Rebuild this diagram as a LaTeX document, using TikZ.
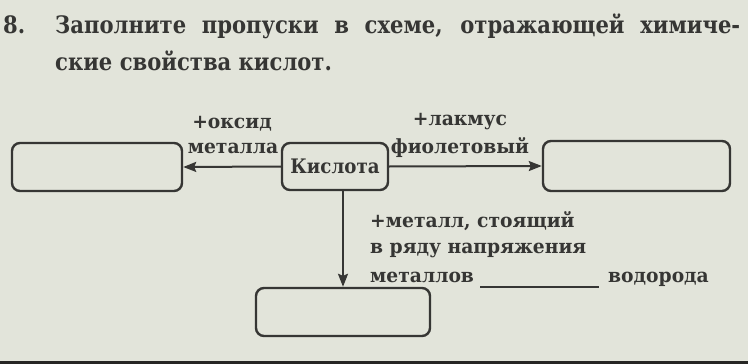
\documentclass[tikz,border=0pt]{standalone}
\usepackage{fontspec}
\setmainfont{DejaVu Serif}
\newfontfamily\ttlfont[FakeStretch=0.88]{DejaVu Serif}
\newfontfamily\lblfont[FakeStretch=0.96]{DejaVu Serif}
\newfontfamily\kisfont[FakeStretch=0.91]{DejaVu Serif}
\usetikzlibrary{arrows.meta,calc}
\definecolor{bg}{HTML}{E2E4DA}
\definecolor{ink}{HTML}{363634}
\definecolor{edge}{HTML}{262624}
\tikzset{
  blank/.style={draw=ink,line width=2.4pt,rounded corners=8pt,fill=none,inner sep=0pt},
  conn/.style={draw=ink,line width=2pt,-{Stealth[length=13pt,width=10pt,inset=2pt]}},
  lbl/.style={text=ink,font=\lblfont\bfseries\fontsize{19.5}{22}\selectfont,inner sep=0pt},
  ttl/.style={text=ink,font=\ttlfont\bfseries\fontsize{24}{28}\selectfont,inner sep=0pt}
}
\begin{document}
\begin{tikzpicture}[x=1pt,y=-1pt]
\fill[bg] (0,0) rectangle (748,364);
\useasboundingbox (0,0) rectangle (748,364);
\fill[edge] (0,361) rectangle (748,364);
% title
\node[ttl,anchor=base west] (num) at (3,34) {8.};
\node[ttl,anchor=base west] (t1) at (55,34) {\makebox[685pt][s]{Заполните пропуски в схеме, отражающей химиче-}};
\node[ttl,anchor=base west] (t2) at (55,70) {ские свойства кислот.};
% boxes
\node[blank,minimum width=170pt,minimum height=48pt] (lbox) at (97,167) {};
\node[blank,minimum width=187pt,minimum height=50pt] (rbox) at (636.5,166) {};
\node[blank,minimum width=174pt,minimum height=48pt] (bbox) at (343,312) {};
\node[blank,minimum width=106pt,minimum height=47pt,text=ink,font=\kisfont\bfseries\fontsize{20}{23}\selectfont] (kis) at (335,166.5) {\raisebox{-4pt}{Кислота}};
% connectors
\draw[conn] (kis.west) -- (lbox.east);
\draw[conn] (kis.east) -- (rbox.west);
\draw[conn] (kis.south -| bbox.north) -- (bbox.north);
% labels
\node[lbl,anchor=base] (l1) at (232,128) {+оксид};
\node[lbl,anchor=base] (l2) at (233,153) {металла};
\node[lbl,anchor=base] (r1) at (460,125) {+лакмус};
\node[lbl,anchor=base] (r2) at (460,153) {фиолетовый};
\node[lbl,anchor=base west] (d1) at (370,227) {+металл, стоящий};
\node[lbl,anchor=base west] (d2) at (370,253) {в ряду напряжения};
\node[lbl,anchor=base west] (d3) at (370,282) {металлов};
\node[lbl,anchor=base west] (d4) at (608,282) {водорода};
\coordinate (ua) at (480,287);
\coordinate (ub) at (599,287);
\draw[ink,line width=1.2pt] (ua) -- (ub);
\end{tikzpicture}
\end{document}
